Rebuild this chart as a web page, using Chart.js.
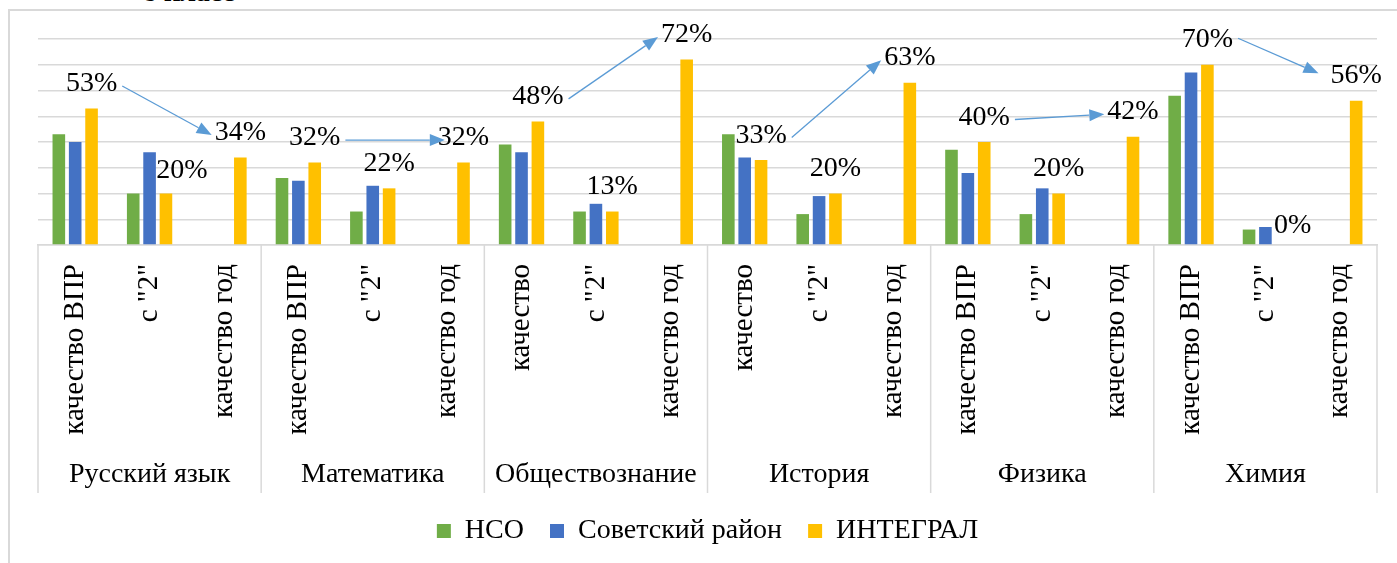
<!DOCTYPE html>
<html lang="ru">
<head>
<meta charset="utf-8">
<title>8 класс</title>
<script src="https://cdn.jsdelivr.net/npm/chart.js@4.4.1/dist/chart.umd.min.js"></script>
<style>
  html, body { margin: 0; padding: 0; background: #fff; overflow: hidden; }
  #wrap { position: relative; width: 1397px; height: 563px; overflow: hidden; }
  #frame { position: absolute; left: 8px; top: 9px; width: 1500px; height: 700px; border: 2px solid #d9d9d9; }
  #title { position: absolute; left: 143px; top: -22px; font: bold 28px/28px "Liberation Serif", "Times New Roman", serif; }
  #chart { position: absolute; left: 0; top: 0; }
</style>
</head>
<body>
<div id="wrap">
  <div id="frame"></div>
  <div id="title">8 класс</div>
  <canvas id="chart" width="1397" height="563"></canvas>
</div>
<script>
const SERIF = '"Liberation Serif", "Times New Roman", serif';

// sub-categories under each subject (3 per subject)
const categories = [
  'качество ВПР', 'с "2"', 'качество год',
  'качество ВПР', 'с "2"', 'качество год',
  'качество', 'с "2"', 'качество год',
  'качество', 'с "2"', 'качество год',
  'качество ВПР', 'с "2"', 'качество год',
  'качество ВПР', 'с "2"', 'качество год'
];
const subjects = ['Русский язык', 'Математика', 'Обществознание', 'История', 'Физика', 'Химия'];

// values in %
const nso      = [43, 20, null, 26, 13, null, 39, 13, null, 43, 12, null, 37, 12, null, 58, 6, null];
const sovetsky = [40, 36, null, 25, 23, null, 36, 16, null, 34, 19, null, 28, 22, null, 67, 7, null];
const integral = [53, 20, 34, 32, 22, 32, 48, 13, 72, 33, 20, 63, 40, 20, 42, 70, 0, 56];

// arrows between ИНТЕГРАЛ labels (index from -> index to)
const arrowPairs = [[0, 2], [3, 5], [6, 8], [9, 11], [12, 14], [15, 17]];

// data labels for ИНТЕГРАЛ + arrows
const labelPlugin = {
  id: 'integralLabels',
  afterDatasetsDraw(chart, args, opts) {
    const ctx = chart.ctx;
    const meta = chart.getDatasetMeta(2);
    const values = chart.data.datasets[2].data;
    ctx.save();
    ctx.font = '28px ' + SERIF;
    ctx.fillStyle = '#000';
    ctx.textAlign = 'center';
    ctx.textBaseline = 'alphabetic';
    const boxes = [];
    meta.data.forEach((bar, i) => {
      const v = values[i];
      if (v === null) { boxes.push(null); return; }
      const text = v + '%';
      const shift = opts.shift[i] || [0, 0];
      const x = bar.x + shift[0];
      const base = bar.y - 17.5 + shift[1];
      ctx.fillText(text, x, base);
      const w = ctx.measureText(text).width;
      boxes.push({ left: x - w / 2, right: x + w / 2, cy: base - 10 });
    });

    ctx.strokeStyle = '#5b9bd5';
    ctx.fillStyle = '#5b9bd5';
    ctx.lineWidth = 1.3;
    arrowPairs.forEach(([from, to], k) => {
      const s = boxes[from], e = boxes[to];
      const t = opts.arrowTweak[k] || [0, 0, 0, 0];
      const x1 = s.right + 5 + t[0], y1 = s.cy + 5 + t[1];
      const x2 = e.left - 3 + t[2], y2 = e.cy + 5 + t[3];
      const ang = Math.atan2(y2 - y1, x2 - x1);
      const L = 15, H = 6;
      const bx = x2 - L * Math.cos(ang), by = y2 - L * Math.sin(ang);
      ctx.beginPath();
      ctx.moveTo(x1, y1);
      ctx.lineTo(bx, by);
      ctx.stroke();
      ctx.beginPath();
      ctx.moveTo(x2, y2);
      ctx.lineTo(bx - H * Math.sin(ang), by + H * Math.cos(ang));
      ctx.lineTo(bx + H * Math.sin(ang), by - H * Math.cos(ang));
      ctx.closePath();
      ctx.fill();
    });
    ctx.restore();
  }
};

// vertical separators between subject groups in the label area
const dividerPlugin = {
  id: 'groupDividers',
  afterDraw(chart) {
    const x = chart.scales.x;
    const ctx = chart.ctx;
    ctx.save();
    ctx.strokeStyle = '#d9d9d9';
    ctx.lineWidth = 1.5;
    for (let i = 0; i <= categories.length; i += 3) {
      const px = x.getPixelForValue(i - 0.5);
      ctx.beginPath();
      ctx.moveTo(px, x.top);
      ctx.lineTo(px, x.bottom + 48);
      ctx.stroke();
    }
    ctx.restore();
  }
};

new Chart(document.getElementById('chart'), {
  type: 'bar',
  data: {
    labels: categories,
    datasets: [
      { label: 'НСО', data: nso, backgroundColor: '#70ad47', borderWidth: 0 },
      { label: 'Советский район', data: sovetsky, backgroundColor: '#4472c4', borderWidth: 0 },
      { label: 'ИНТЕГРАЛ', data: integral, backgroundColor: '#ffc000', borderWidth: 0 }
    ]
  },
  options: {
    responsive: false,
    animation: false,
    devicePixelRatio: 1,
    categoryPercentage: 0.66,
    barPercentage: 0.77,
    layout: { padding: { left: 38, right: 20, top: 39, bottom: 8 } },
    plugins: {
      tooltip: { enabled: false },
      legend: {
        position: 'bottom',
        labels: {
          font: { family: SERIF, size: 28 },
          color: '#000',
          boxWidth: 14,
          boxHeight: 14,
          padding: 26
        }
      },
      integralLabels: {
        shift: { 1: [16, 1.5], 16: [11, 5.5] },
        arrowTweak: { 1: [0, 0, 10, 0], 5: [0, -4, -9, -5] }
      }
    },
    scales: {
      x: {
        ticks: {
          autoSkip: false,
          minRotation: 90,
          maxRotation: 90,
          padding: 19,
          color: '#000',
          font: { family: SERIF, size: 29 }
        },
        grid: { display: false, drawTicks: false },
        border: { display: true, color: '#d9d9d9', width: 1.5 },
        afterFit(s) { s.height = 200; }
      },
      groups: {
        type: 'category',
        labels: subjects,
        position: 'bottom',
        offset: true,
        ticks: {
          padding: 13,
          color: '#000',
          font: { family: SERIF, size: 28 }
        },
        grid: { display: false, drawTicks: false },
        border: { display: false },
        afterFit(s) { s.height = 46; }
      },
      y: {
        min: 0,
        max: 80,
        ticks: { display: false, stepSize: 10 },
        grid: { color: '#d9d9d9', lineWidth: 1.5, drawTicks: false },
        border: { display: false },
        afterFit(s) { s.width = 0; }
      }
    }
  },
  plugins: [labelPlugin, dividerPlugin]
});
</script>
</body>
</html>
